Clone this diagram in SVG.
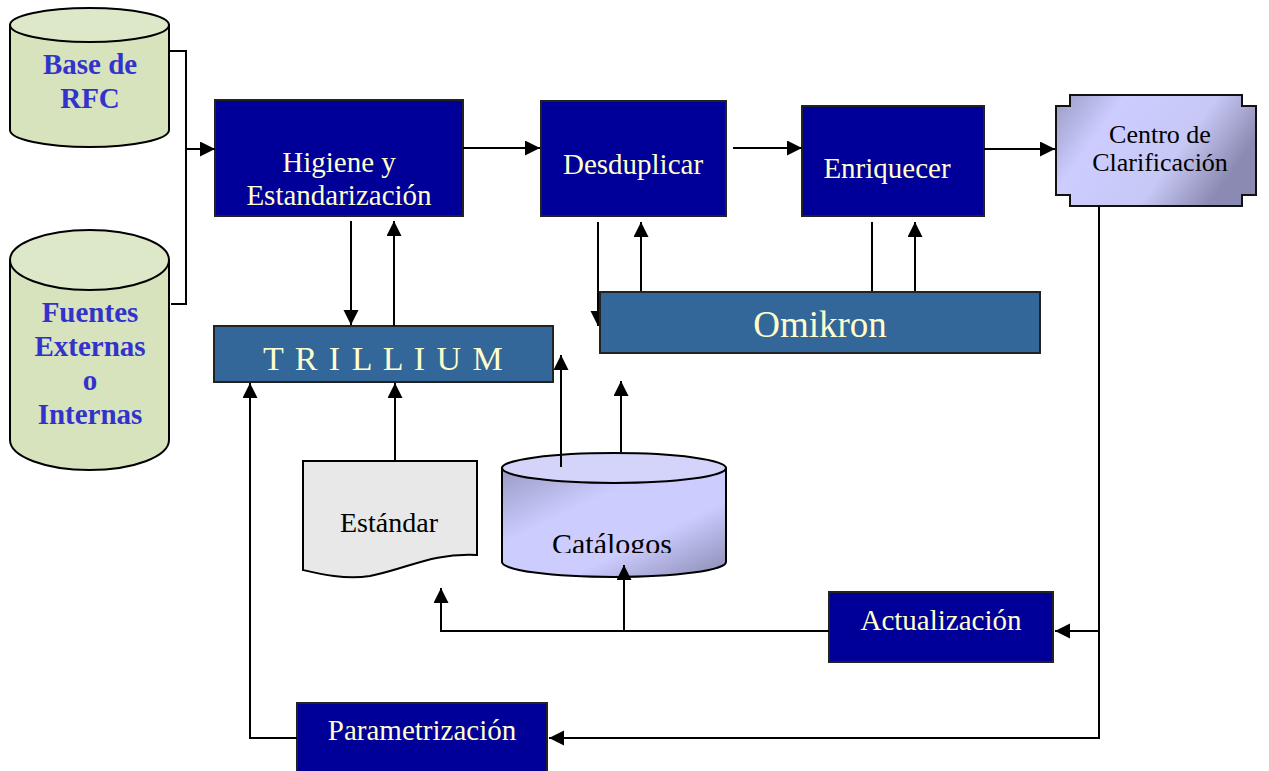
<svg xmlns="http://www.w3.org/2000/svg" width="1269" height="771" viewBox="0 0 1269 771">
<defs>
  <marker id="arr" markerUnits="userSpaceOnUse" markerWidth="16" markerHeight="16" refX="15" refY="7.5" orient="auto">
    <path d="M0,0 L15,7.5 L0,15 z" fill="#000"/>
  </marker>
  <linearGradient id="lav" x1="0" y1="0" x2="1" y2="1">
    <stop offset="0" stop-color="#9a9ac4"/>
    <stop offset="0.35" stop-color="#ccccff"/>
    <stop offset="0.65" stop-color="#ccccff"/>
    <stop offset="1" stop-color="#8a8ab2"/>
  </linearGradient>
  <linearGradient id="lav2" x1="0" y1="0" x2="1" y2="0.4">
    <stop offset="0" stop-color="#9a9ac4"/>
    <stop offset="0.3" stop-color="#ccccff"/>
    <stop offset="0.7" stop-color="#c8c8f6"/>
    <stop offset="1" stop-color="#8a8ab2"/>
  </linearGradient>
  <clipPath id="catclip"><rect x="500" y="440" width="230" height="113"/></clipPath>
  <style>
    .box{fill:#000099;stroke:#222;stroke-width:2}
    .mid{fill:#336699;stroke:#222;stroke-width:2}
    .cyl{fill:#d6e3bc;stroke:#000;stroke-width:2}
    .cyltop{fill:#dde8c9;stroke:#000;stroke-width:2}
    .lt{font-family:"Liberation Serif","Times New Roman",serif;font-size:29px;fill:#ffffcc;text-anchor:middle}
    .bl{font-family:"Liberation Serif","Times New Roman",serif;font-size:29px;font-weight:bold;fill:#3333cc;text-anchor:middle}
    .dk{font-family:"Liberation Serif","Times New Roman",serif;font-size:28px;fill:#000;text-anchor:middle}
    .ln{fill:none;stroke:#000;stroke-width:2}
    .ar{fill:none;stroke:#000;stroke-width:2;marker-end:url(#arr)}
  </style>
</defs>
<rect width="1269" height="771" fill="#fff"/>

<g id="base-rfc">
  <path class="cyl" d="M10,25 L10,130 A79.5,17 0 0 0 169,130 L169,25 Z"/>
  <ellipse class="cyltop" cx="89.5" cy="25" rx="79.5" ry="17"/>
  <text class="bl" x="90" y="74">Base de</text>
  <text class="bl" x="90" y="108">RFC</text>
</g>

<g id="fuentes">
  <path class="cyl" d="M10,260 L10,440 A79.5,30 0 0 0 169,440 L169,260 Z"/>
  <ellipse class="cyltop" cx="89.5" cy="260" rx="79.5" ry="30"/>
  <text class="bl" x="90" y="322">Fuentes</text>
  <text class="bl" x="90" y="356">Externas</text>
  <text class="bl" x="90" y="390">o</text>
  <text class="bl" x="90" y="424">Internas</text>
</g>

<g id="higiene">
  <rect class="box" x="215" y="100" width="248" height="116"/>
  <text class="lt" x="339" y="172">Higiene y</text>
  <text class="lt" x="339" y="205">Estandarización</text>
</g>

<g id="desduplicar">
  <rect class="box" x="541" y="101" width="185" height="115"/>
  <text class="lt" x="633" y="174">Desduplicar</text>
</g>

<g id="enriquecer">
  <rect class="box" x="802" y="106" width="182" height="110"/>
  <text class="lt" x="887" y="178">Enriquecer</text>
</g>

<g id="centro">
  <path d="M1070,95 L1242,95 L1242,106 L1256,106 L1256,195 L1242,195 L1242,206 L1070,206 L1070,195 L1056,195 L1056,106 L1070,106 Z" fill="url(#lav2)" stroke="#111" stroke-width="2"/>
  <text class="dk" style="font-size:26px" x="1160" y="143">Centro de</text>
  <text class="dk" style="font-size:26px" x="1160" y="171">Clarificación</text>
</g>

<g id="trillium">
  <rect class="mid" x="214" y="326" width="339" height="56"/>
  <text x="263" y="370" style="font-family:'Liberation Serif','Times New Roman',serif;font-size:34px;fill:#ffffcc;letter-spacing:1.5px">T R I L L I U M</text>
</g>

<g id="estandar">
  <path d="M303,461 L477,461 L477,555 C430,553 410,568 370,576 C345,580 320,574 303,570 Z" fill="#e8e8e8" stroke="#000" stroke-width="2"/>
  <text class="dk" x="389" y="532">Estándar</text>
</g>

<g id="catalogos">
  <path d="M502,468 L502,562 A112,15 0 0 0 726,562 L726,468 Z" fill="url(#lav)" stroke="#000" stroke-width="2"/>
  <ellipse cx="614" cy="468" rx="112" ry="15" fill="#d4d4fb" stroke="#000" stroke-width="2"/>
  <text class="dk" clip-path="url(#catclip)" style="font-size:30px" x="612" y="554">Catálogos</text>
</g>

<g id="actualizacion">
  <rect class="box" x="829" y="592" width="224" height="70"/>
  <text class="lt" x="941" y="630">Actualización</text>
</g>

<g id="parametrizacion">
  <rect class="box" x="297" y="703" width="250" height="70"/>
  <text class="lt" x="422" y="740">Parametrización</text>
</g>

<g id="connectors">
  <polyline class="ln" points="169,51 186,51 186,304 171,304"/>
  <line class="ar" x1="186" y1="149" x2="215" y2="149"/>
  <line class="ar" x1="463" y1="148" x2="540" y2="148"/>
  <line class="ar" x1="733" y1="148" x2="802" y2="148"/>
  <line class="ar" x1="984" y1="149" x2="1055" y2="149"/>
  <line class="ar" x1="351" y1="221" x2="351" y2="325"/>
  <line class="ar" x1="394" y1="326" x2="394" y2="221"/>
  <line class="ar" x1="598" y1="222" x2="598" y2="326"/>
  <line class="ar" x1="641" y1="292" x2="641" y2="222"/>
  <line class="ln" x1="872" y1="222" x2="872" y2="292"/>
  <line class="ar" x1="915" y1="292" x2="915" y2="222"/>
  <polyline class="ar" points="1099,207 1099,738 549,738"/>
  <line class="ar" x1="1099" y1="631" x2="1055" y2="631"/>
  <polyline class="ar" points="829,631 441,631 441,588"/>
  <line class="ar" x1="624" y1="631" x2="624" y2="565"/>
  <polyline class="ar" points="297,738 250,738 250,383"/>
  <line class="ar" x1="395" y1="460" x2="395" y2="383"/>
  <line class="ar" x1="561" y1="467" x2="561" y2="355"/>
  <line class="ar" x1="621" y1="452" x2="621" y2="381"/>
</g>

<g id="omikron">
  <rect class="mid" x="600" y="292" width="440" height="61"/>
  <text class="lt" style="font-size:37px" x="820" y="337">Omikron</text>
</g>
</svg>
